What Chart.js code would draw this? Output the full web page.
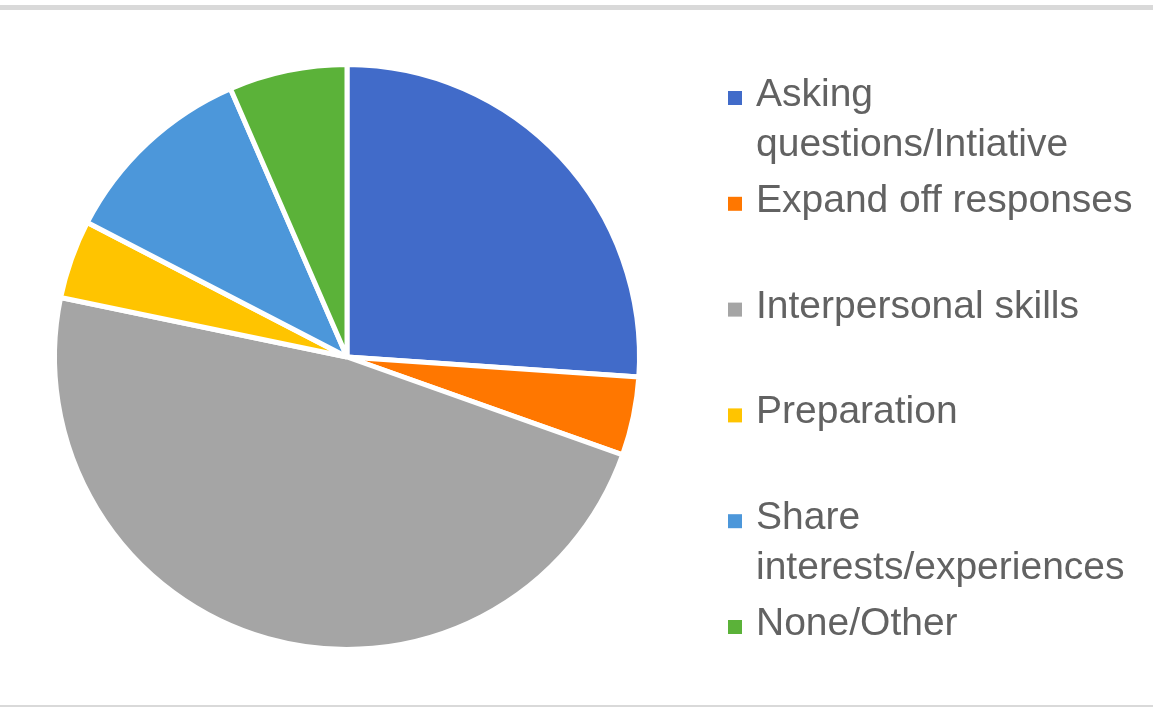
<!DOCTYPE html>
<html>
<head>
<meta charset="utf-8">
<script src="https://cdn.jsdelivr.net/npm/chart.js@4"></script>
<style>
  html, body { margin: 0; padding: 0; background: #fff; }
  #wrap { position: relative; width: 1153px; height: 707px; overflow: hidden; }
  #topRule { position: absolute; left: 0; top: 5px; width: 1153px; height: 5px; background: #d9d9d9; }
  #bottomRule { position: absolute; left: 0; top: 705px; width: 1153px; height: 2px; background: #d9d9d9; }
  canvas { position: absolute; left: 0; top: 0; }
</style>
</head>
<body>
<div id="wrap">
  <div id="topRule"></div>
  <canvas id="pie" width="1153" height="707"></canvas>
  <div id="bottomRule"></div>
</div>
<script>
// categories (a nested array is a wrapped legend entry)
let categories = [
    ['Asking', 'questions/Intiative'],
    'Expand off responses',
    'Interpersonal skills',
    'Preparation',
    ['Share', 'interests/experiences'],
    'None/Other'
]
let responses = [12, 2, 22, 2, 5, 3]
let sliceColors = ['#416bc9', '#ff7700', '#a5a5a5', '#ffc400', '#4c97da', '#5bb239']

// legend on the right, one row per category
const sideLegend = {
    id: 'sideLegend',
    afterDraw(chart) {
        const ctx = chart.ctx
        const colors = chart.data.datasets[0].backgroundColor
        ctx.save()
        ctx.font = '39px "Liberation Sans", Arial, sans-serif'
        ctx.textBaseline = 'alphabetic'
        chart.data.labels.forEach((label, i) => {
            const cy = 98 + i * 105.8
            ctx.fillStyle = colors[i]
            ctx.fillRect(728, cy - 7, 14, 14)
            ctx.fillStyle = '#626262'
            const lines = Array.isArray(label) ? label : [label]
            lines.forEach((line, j) => {
                ctx.fillText(line, 756, cy + 8 + j * 50)
            })
        })
        ctx.restore()
    }
}

new Chart('pie', {
    type: 'pie',
    data: {
        labels: categories,
        datasets: [{
            data: responses,
            backgroundColor: sliceColors,
            borderColor: '#ffffff',
            borderWidth: 5
        }]
    },
    options: {
        responsive: false,
        animation: false,
        layout: {
            padding: { left: 52, right: 511, top: 62, bottom: 55 }
        },
        plugins: {
            legend: { display: false },
            tooltip: { enabled: false }
        }
    },
    plugins: [sideLegend]
});
</script>
</body>
</html>
